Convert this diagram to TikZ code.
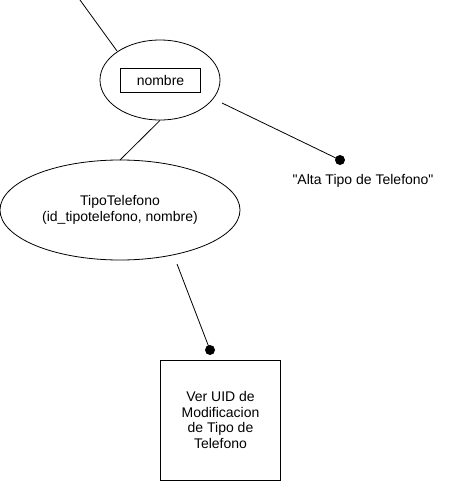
\documentclass[tikz,border=0pt]{standalone}
\usepackage{fontspec}
\setmainfont{Liberation Sans}[Ligatures=TeXOff]
\usetikzlibrary{shapes.geometric}
\tikzset{
  ent/.style={draw, ellipse, line width=0.8pt, inner sep=0pt},
  attr/.style={draw, rectangle, line width=0.8pt, minimum width=80pt, minimum height=24pt, inner sep=0pt},
  uibox/.style={draw, rectangle, line width=0.8pt, minimum width=120pt, minimum height=120pt, align=center, inner sep=0pt},
  conn/.style={line width=0.8pt},
  dot/.style={circle, fill=black, minimum size=10pt, inner sep=0pt},
  lbl/.style={font=\fontsize{14pt}{15.7pt}\selectfont, align=center, inner sep=0pt}
}
\begin{document}
\begin{tikzpicture}[x=1pt, y=-1pt, font=\fontsize{14pt}{15.7pt}\selectfont]
\useasboundingbox (0,0) rectangle (452,482);
% top ellipse with attribute
\node[ent, minimum width=120pt, minimum height=80pt] (e1) at (160,80) {};
\node[attr] (nom) at (160.5,80) {nombre};
% lower ellipse
\node[ent, minimum width=240pt, minimum height=100pt, align=center] (e2) at (120,210) {};
\node[lbl] (e2t) at (120,210) {TipoTelefono\\(id\_tipotelefono, nombre)};
% dots
\node[dot] (d1) at (340,160) {};
\node[dot] (d2) at (210,350) {};
% labels
\node[lbl] (alta) at (363,181) {"Alta Tipo de Telefono"};
% box
\node[uibox, lbl, draw, line width=0.8pt, minimum width=120pt, minimum height=120pt] (ui) at (220.5,420) {Ver UID de\\Modificacion\\de Tipo de\\Telefono};
% connector endpoints
\coordinate (t0) at (80,0);
\coordinate (t1) at (117,51);
\coordinate (r0) at (222,103);
\coordinate (b1) at (177,264);
% connectors
\draw[conn] (t0) -- (t1);
\draw[conn] (e1.south) -- (120,160) coordinate (e2top);
\draw[conn] (r0) -- (d1.center);
\draw[conn] (b1) -- (d2.center);
\end{tikzpicture}
\end{document}
